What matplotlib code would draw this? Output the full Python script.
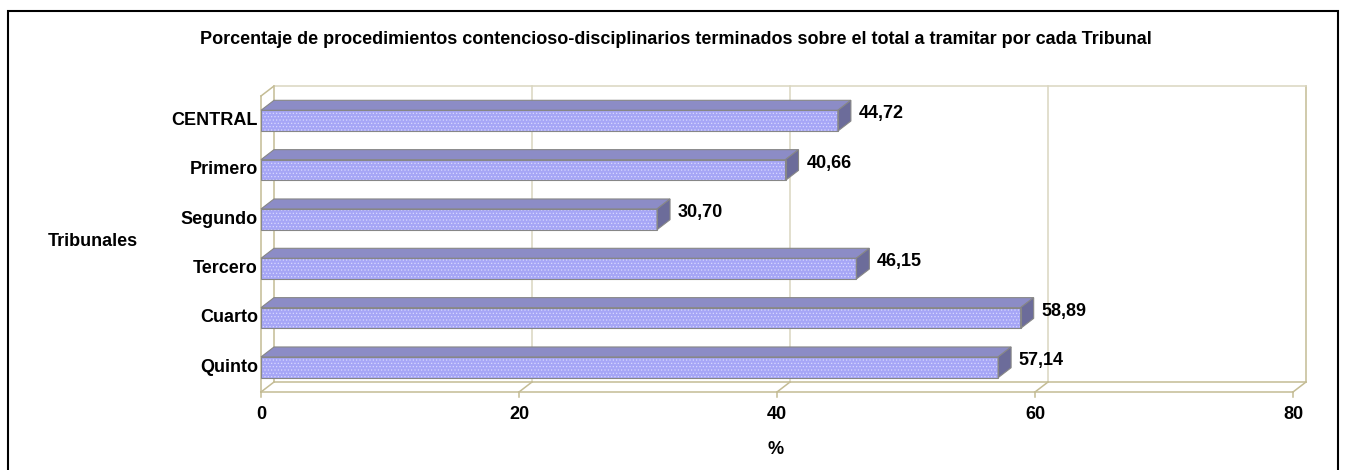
import numpy as np
import matplotlib
matplotlib.use("Agg")
import matplotlib.pyplot as plt
from matplotlib.patches import Polygon, Rectangle

plt.rcParams['font.family'] = ['Liberation Sans', 'DejaVu Sans']
plt.rcParams['font.weight'] = 'bold'
plt.rcParams['hatch.linewidth'] = 0.5

# --- data ---
tribunales = ['CENTRAL', 'Primero', 'Segundo', 'Tercero', 'Cuarto', 'Quinto']
porcentaje = [44.72, 40.66, 30.70, 46.15, 58.89, 57.14]
etiquetas = ['44,72', '40,66', '30,70', '46,15', '58,89', '57,14']
xticks = [0, 20, 40, 60, 80]

W, H = 1346, 470
fig = plt.figure(figsize=(W / 100, H / 100), dpi=100)

# frame round the whole chart
fig.patches.append(Rectangle((8 / W, -0.02), 1330 / W, 1 - 11 / H + 0.02,
                             transform=fig.transFigure, fill=False,
                             edgecolor='black', linewidth=1.5))

# front plane of the pseudo 3d box
ax = fig.add_axes([261 / W, 1 - 392 / H, (1293 - 261) / W, (392 - 96) / H])
ax.set_xlim(0, 80)
ax.set_ylim(5.5, -0.5)
ax.axis('off')

dx = 13 / (1032 / 80)      # depth offset in data units (x)
dy = 10 / (296 / 6)        # depth offset in data units (y)
ytop, ybot = -0.5, 5.5
wall = '#c4bc94'
grid = '#dad6c0'

# back wall: gridlines and frame
for t in xticks:
    ax.plot([t + dx, t + dx], [ytop - dy, ybot - dy], color=grid if t not in (0, 80) else wall,
            lw=1.1, clip_on=False, zorder=1)
ax.plot([dx, 80 + dx], [ytop - dy, ytop - dy], color=grid, lw=1.1, clip_on=False, zorder=1)
# left wall
ax.plot([0, 0], [ytop, ybot], color=wall, lw=1.1, clip_on=False, zorder=1)
ax.plot([0, dx], [ytop, ytop - dy], color=wall, lw=1.1, clip_on=False, zorder=1)
# floor
ax.plot([0, 80], [ybot, ybot], color=wall, lw=1.1, clip_on=False, zorder=1)
ax.plot([dx, 80 + dx], [ybot - dy, ybot - dy], color=wall, lw=1.1, clip_on=False, zorder=1)
for t in xticks:
    ax.plot([t, t + dx], [ybot, ybot - dy], color=wall, lw=1.1, clip_on=False, zorder=1)
    ax.plot([t, t], [ybot, ybot + 0.1], color=wall, lw=1.1, clip_on=False, zorder=1)

# bars
h = 0.42
ypos = np.arange(len(tribunales))
front_c = '#a6a6f6'
top_c = '#8c8cc6'
side_c = '#6c6c9a'
edge_c = '#878787'
ax.barh(ypos, porcentaje, height=h, color=front_c, edgecolor='#d8d8ff', lw=0,
        hatch='.....', zorder=3)
ax.barh(ypos, porcentaje, height=h, fill=False, edgecolor=edge_c, lw=0.8, zorder=4)
for y, v in zip(ypos, porcentaje):
    y0 = y - h / 2
    y1 = y + h / 2
    top = Polygon([(0, y0), (v, y0), (v + dx, y0 - dy), (dx, y0 - dy)], closed=True,
                  facecolor=top_c, edgecolor=edge_c, lw=0.8, zorder=3, clip_on=False)
    side = Polygon([(v, y0), (v + dx, y0 - dy), (v + dx, y1 - dy), (v, y1)], closed=True,
                   facecolor=side_c, edgecolor=edge_c, lw=0.8, zorder=3, clip_on=False)
    ax.add_patch(top)
    ax.add_patch(side)

for y, v, s in zip(ypos, porcentaje, etiquetas):
    ax.text(v + dx + 0.6, y - 0.14, s, ha='left', va='center', fontsize=13,
            fontweight='bold', clip_on=False)

# category labels
for y, name in zip(ypos, tribunales):
    ax.text(-0.25, y, name, ha='right', va='center', fontsize=13, fontweight='bold')

# x tick labels
for t in xticks:
    ax.text(t, ybot + 0.45, str(t), ha='center', va='center', fontsize=13, fontweight='bold')

fig.text(776 / W, 1 - 449 / H, '%', ha='center', va='center', fontsize=13, fontweight='bold')
fig.text(93 / W, 1 - 241 / H, 'Tribunales', ha='center', va='center', fontsize=13,
         fontweight='bold')
fig.text(676 / W, 1 - 40 / H,
         'Porcentaje de procedimientos contencioso-disciplinarios terminados sobre el total a tramitar por cada Tribunal',
         ha='center', va='center', fontsize=13, fontweight='bold')

fig.savefig('out.png', dpi=100)
